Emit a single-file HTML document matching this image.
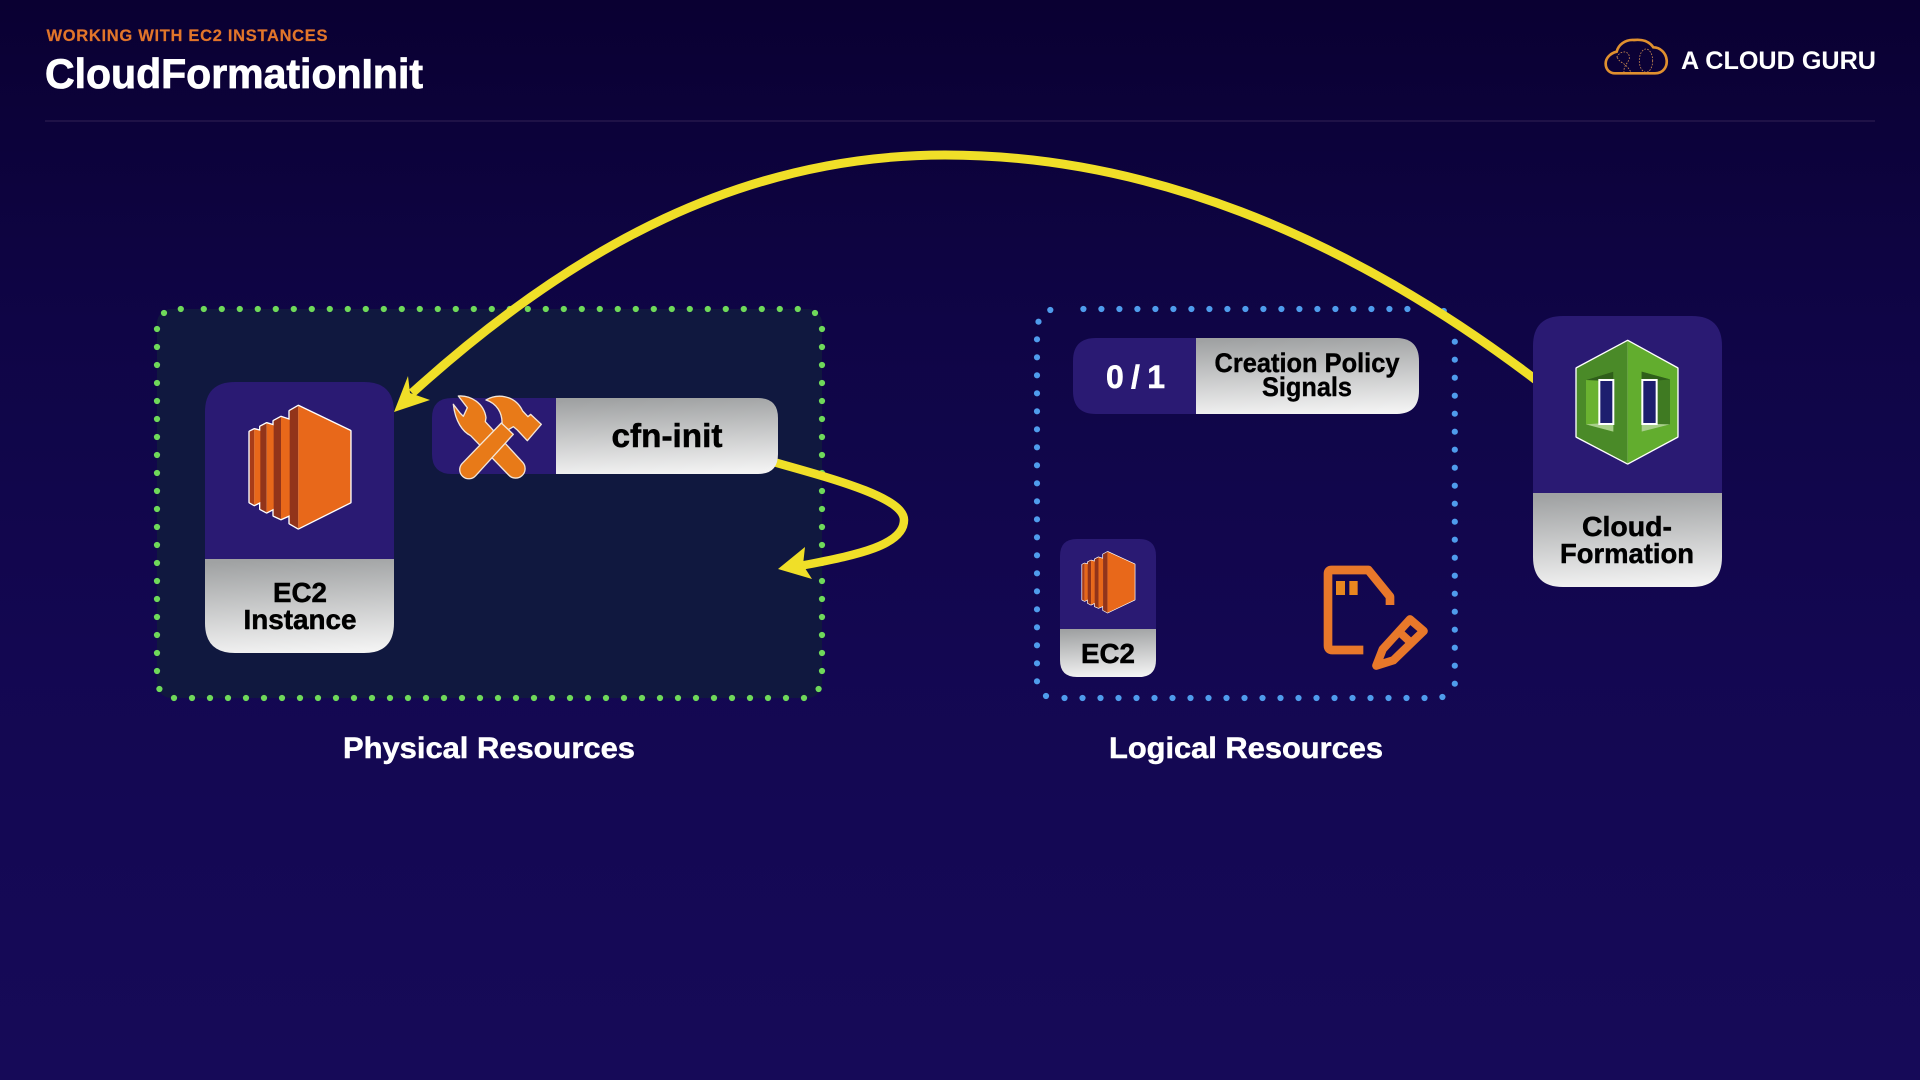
<!DOCTYPE html>
<html><head><meta charset="utf-8"><style>
html,body{margin:0;padding:0;width:1920px;height:1080px;overflow:hidden;background:#120650}
svg{display:block}
text{font-family:"Liberation Sans",sans-serif;font-weight:700}
</style></head><body>
<svg xmlns="http://www.w3.org/2000/svg" width="1920" height="1080" viewBox="0 0 1920 1080">
<defs>
<linearGradient id="bg" x1="0" y1="0" x2="0" y2="1"><stop offset="0" stop-color="#0a0032"/><stop offset=".3" stop-color="#0f0546"/><stop offset=".6" stop-color="#130751"/><stop offset="1" stop-color="#160a58"/></linearGradient>
<linearGradient id="g" x1=".45" y1="0" x2=".55" y2="1"><stop offset="0" stop-color="#a0a2a3"/><stop offset="1" stop-color="#f3f3f3"/></linearGradient>
<g id="ec2">
<g fill="#fff" stroke="#fff" stroke-width="8" stroke-linejoin="round">
<polygon points="44,110 58,103 78,108 78,320 58,330 44,322"/>
<polygon points="76,95 95,85 118,92 118,340 95,352 76,342"/>
<polygon points="116,78 138,66 165,75 165,360 138,372 116,362"/>
<polygon points="164,48 190,33 346,108 346,322 190,400 164,385"/>
</g>
<polygon points="44,110 58,103 58,330 44,322" fill="#a83c18"/><polygon points="58,103 78,108 78,320 58,330" fill="#e8681a"/>
<polygon points="76,95 95,85 95,352 76,342" fill="#92341a"/><polygon points="95,85 118,92 118,340 95,352" fill="#e8681a"/>
<polygon points="116,78 138,66 138,372 116,362" fill="#92341a"/><polygon points="138,66 165,75 165,360 138,372" fill="#e8681a"/>
<polygon points="164,48 190,33 190,400 164,385" fill="#92341a"/><polygon points="190,33 346,108 346,322 190,400" fill="#e8681a"/>
</g>
</defs>
<rect width="1920" height="1080" fill="url(#bg)"/>

<!-- header -->
<text x="46.5" y="41" font-size="16.5" fill="#e2752a" stroke="#e2752a" stroke-width=".2" textLength="281" lengthAdjust="spacing">WORKING WITH EC2 INSTANCES</text>
<text x="45" y="88" font-size="42" fill="#fff" stroke="#fff" stroke-width=".8" textLength="378" lengthAdjust="spacingAndGlyphs">CloudFormationInit</text>
<rect x="45" y="120" width="1830" height="2" fill="#1f1247"/>
<g transform="translate(1560 20) scale(.3333)">
<path d="M165 160H285C310 160 322 140 320 120C318 98 300 82 280 82C265 60 240 58 222 60C195 58 175 75 170 95C150 100 137 115 137 130C137 150 150 160 165 160Z" fill="none" stroke="#e0902f" stroke-width="8"/>
<ellipse cx="258" cy="122" rx="20" ry="35" fill="none" stroke="#c98a50" stroke-width="2.5" stroke-dasharray="5 4"/>
<path d="M170 112C180 90 210 90 208 115C205 130 190 135 192 158M172 112C178 130 195 125 212 155" fill="none" stroke="#c98a50" stroke-width="2.5" stroke-dasharray="5 4"/>
</g>
<text x="1681" y="69" font-size="25" fill="#fff" textLength="195" lengthAdjust="spacingAndGlyphs">A CLOUD GURU</text>

<!-- physical box -->
<rect x="157" y="309" width="665" height="389" rx="14" fill="#10183f"/>
<g stroke="#6fd95a" stroke-width="6.2" stroke-linecap="round" fill="none">
<line x1="203.8" y1="309" x2="800" y2="309" stroke-dasharray="0 18"/>
<line x1="157" y1="329" x2="157" y2="674" stroke-dasharray="0 18"/>
<line x1="822" y1="329" x2="822" y2="674" stroke-dasharray="0 18"/>
<line x1="174" y1="698" x2="807" y2="698" stroke-dasharray="0 18"/>
<path d="M180.8 309h0M164 313h0M815 313h0M159.4 689h0M818.6 689h0"/>
</g>

<!-- logical box -->
<g stroke="#4f9cec" stroke-width="6.2" stroke-linecap="round" fill="none">
<line x1="1083.4" y1="309" x2="1410" y2="309" stroke-dasharray="0 18"/>
<line x1="1037" y1="339.3" x2="1037" y2="684" stroke-dasharray="0 18"/>
<line x1="1454.8" y1="341.7" x2="1454.8" y2="686" stroke-dasharray="0 18"/>
<line x1="1064.5" y1="698" x2="1426" y2="698" stroke-dasharray="0 18"/>
<path d="M1050.3 310h0M1443.8 311h0M1038.5 321.7h0M1046 696h0M1442.4 697h0"/>
</g>

<!-- connectors -->
<g fill="none" stroke="#f0df28">
<path d="M1540 383C1340 230 1140 155 945 155C745 155 575 245 412 393" stroke-width="9"/>
<path d="M770 461C830 478 904 497 904 520C904 547 850 556 800 566" stroke-width="8.5"/>
</g>
<polygon points="394,412 408,376 410,393 430,400" fill="#f0df28"/>
<polygon points="778,569 805,547 803,565 812,579" fill="#f0df28"/>

<!-- EC2 instance card -->
<path d="M205 559V412Q205 382 235 382H364Q394 382 394 412V559Z" fill="#2a1a73"/>
<path d="M205 559H394V623Q394 653 364 653H235Q205 653 205 623Z" fill="url(#g)"/>
<use href="#ec2" transform="translate(235 395) scale(.3333)"/>
<g fill="#000" stroke="#000" stroke-width=".5" text-anchor="middle" font-size="28">
<text x="300" y="602" textLength="54" lengthAdjust="spacingAndGlyphs">EC2</text>
<text x="300" y="629" textLength="113" lengthAdjust="spacingAndGlyphs">Instance</text>
</g>

<!-- cfn-init pill -->
<path d="M556 398H452Q432 398 432 418V454Q432 474 452 474H556Z" fill="#2a1a73"/>
<path d="M556 398H758Q778 398 778 418V454Q778 474 758 474H556Z" fill="url(#g)"/>
<text x="667" y="447" font-size="33" fill="#000" stroke="#000" stroke-width=".5" text-anchor="middle" textLength="111" lengthAdjust="spacingAndGlyphs">cfn-init</text>
<g transform="translate(440 385) scale(.3333)" fill="#e87a18" stroke="#f3e6d8" stroke-width="4" stroke-linejoin="round">
<path d="M55 33C92 30 132 55 138 98L136 110L248 232A25 25 0 0 1 206 270L92 152C68 140 46 110 40 58L60 84L70 94L82 68Z"/>
<path d="M138 45C170 26 224 28 248 78L264 95L272 88L304 118L262 167L232 135L220 125L205 134L186 118C188 84 170 55 138 45Z"/>
<path d="M184 114L220 148L107 272A25 25 0 0 1 66 236Z"/>
</g>

<!-- creation policy pill -->
<path d="M1196 338H1096Q1073 338 1073 361V391Q1073 414 1096 414H1196Z" fill="#2a1a73"/>
<path d="M1196 338H1396Q1419 338 1419 361V391Q1419 414 1396 414H1196Z" fill="url(#g)"/>
<text x="1135.5" y="388" font-size="32" fill="#fff" stroke="#fff" stroke-width=".5" text-anchor="middle" textLength="59" lengthAdjust="spacing">0 / 1</text>
<g fill="#000" stroke="#000" stroke-width=".4" text-anchor="middle" font-size="27">
<text x="1307" y="372" textLength="185" lengthAdjust="spacingAndGlyphs">Creation Policy</text>
<text x="1307" y="396" textLength="90" lengthAdjust="spacingAndGlyphs">Signals</text>
</g>

<!-- small EC2 card -->
<path d="M1060 629V556Q1060 539 1077 539H1139Q1156 539 1156 556V629Z" fill="#2a1a73"/>
<path d="M1060 629H1156V660Q1156 677 1139 677H1077Q1060 677 1060 660Z" fill="url(#g)"/>
<use href="#ec2" transform="translate(1074.5 546.3) scale(.174 .166)"/>
<text x="1108" y="663" font-size="28" fill="#000" stroke="#000" stroke-width=".5" text-anchor="middle" textLength="54" lengthAdjust="spacingAndGlyphs">EC2</text>

<!-- document + pencil -->
<g transform="translate(1310 555) scale(.3333)" fill="none" stroke="#e8782a" stroke-linejoin="round">
<path d="M240 150V125L175 45H65Q54 45 54 56V272Q54 285 67 285H160" stroke-width="26"/>
<rect x="78" y="78" width="27" height="42" fill="#e8861f" stroke="none"/>
<rect x="118" y="78" width="25" height="42" fill="#e8861f" stroke="none"/>
<path d="M199 332L218 283L300 193L341 228L250 316Z" stroke-width="25"/>
<path d="M265 228L308 268" stroke-width="24"/>
</g>

<!-- CloudFormation card -->
<path d="M1533 493V346Q1533 316 1563 316H1692Q1722 316 1722 346V493Z" fill="#2a1a73"/>
<path d="M1533 493H1722V557Q1722 587 1692 587H1563Q1533 587 1533 557Z" fill="url(#g)"/>
<g transform="translate(1560 330) scale(.3333)">
<polygon points="203,33 352,115 352,320 203,400 50,320 50,115" fill="#fff" stroke="#fff" stroke-width="8" stroke-linejoin="round"/>
<polygon points="203,33 50,115 50,320 203,400" fill="#4a8a28"/>
<polygon points="203,33 352,115 352,320 203,400" fill="#62ad2e"/>
<polygon points="78,150 160,125 160,305 78,283" fill="#6ab230"/>
<polygon points="78,150 160,125 160,148 118,152" fill="#2f5f1a"/>
<polygon points="78,283 118,280 160,282 160,305" fill="#a8cf8a"/>
<rect x="118" y="150" width="42" height="132" fill="#1d1e6e" stroke="#fff" stroke-width="6"/>
<polygon points="245,125 330,148 330,283 245,305" fill="#3f7a22"/>
<polygon points="245,125 330,148 290,152 245,148" fill="#2f5f1a"/>
<polygon points="245,285 290,282 330,283 245,305" fill="#a8cf8a"/>
<rect x="247" y="150" width="43" height="132" fill="#1d1e6e" stroke="#fff" stroke-width="6"/>
</g>
<g fill="#000" stroke="#000" stroke-width=".5" text-anchor="middle" font-size="28">
<text x="1627" y="536" textLength="90" lengthAdjust="spacingAndGlyphs">Cloud-</text>
<text x="1627" y="563" textLength="134" lengthAdjust="spacingAndGlyphs">Formation</text>
</g>

<!-- labels -->
<g fill="#fff" stroke="#fff" stroke-width=".5" text-anchor="middle" font-size="30">
<text x="489" y="758" textLength="292" lengthAdjust="spacingAndGlyphs">Physical Resources</text>
<text x="1246" y="758" textLength="274" lengthAdjust="spacingAndGlyphs">Logical Resources</text>
</g>
</svg>
</body></html>
